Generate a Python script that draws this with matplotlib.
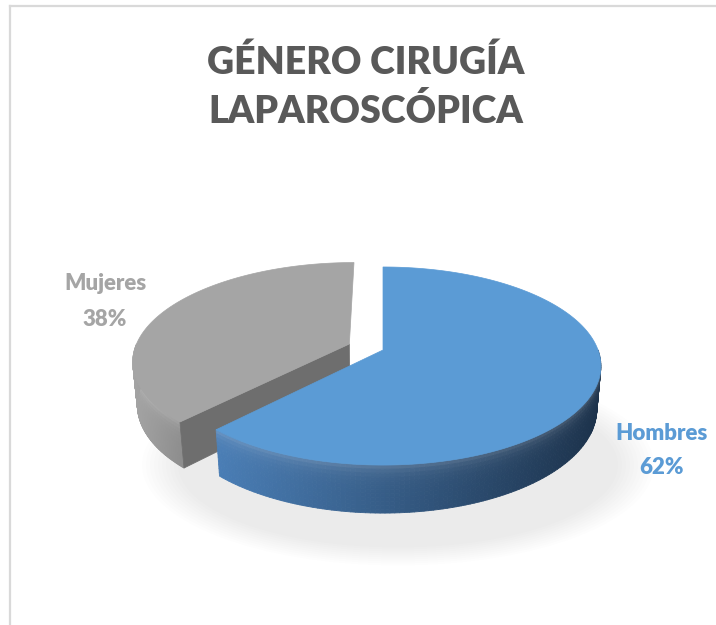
import numpy as np
import matplotlib.pyplot as plt
from matplotlib.patches import Polygon, Ellipse
from matplotlib.collections import PolyCollection

# datos
labels = ['Hombres', 'Mujeres']
values = [62, 38]
pct_labels = ['62%', '38%']
top_colors = ['#5B9BD5', '#A5A5A5']
explode = [0.0, 0.17]
title = 'GÉNERO CIRUGÍA\nLAPAROSCÓPICA'

plt.rcParams['font.family'] = ['Lato', 'DejaVu Sans']

fig = plt.figure(figsize=(7.16, 6.25), dpi=100)
ax = fig.add_axes([0, 0, 1, 1])
ax.set_xlim(0, 716)
ax.set_ylim(625, 0)
ax.axis('off')

# proyeccion en perspectiva del pastel 3D
elev = np.radians(26.65)
D = 5.525
f = 1188.0
cx0, cy0 = 383.0, 350.0
h = 0.225


def proj(X, Y, Z):
    X = np.asarray(X, float); Y = np.asarray(Y, float); Z = np.asarray(Z, float)
    v = Y * np.sin(elev) + Z * np.cos(elev)
    d = Y * np.cos(elev) - Z * np.sin(elev)
    s = f / (D + d)
    return cx0 + X * s, cy0 - v * s


def mix(c1, c2, a):
    c1 = np.array(plt.matplotlib.colors.to_rgb(c1))
    c2 = np.array(plt.matplotlib.colors.to_rgb(c2))
    return tuple(np.clip(c1 * (1 - a) + c2 * a, 0, 1))


# sombra suave
for k in range(10):
    w = 440 + k * 8
    hh = 165 + k * 4
    ax.add_patch(Ellipse((398, 465), w, hh, color='black', alpha=0.006, lw=0, zorder=0))

# borde del grafico
ax.plot([9.5, 716], [6, 6], color='#D9D9D9', lw=1.6, zorder=1)
ax.plot([9.5, 9.5], [6, 625], color='#D9D9D9', lw=1.6, zorder=1)

fracs = np.array(values) / np.sum(values)
bounds = np.concatenate([[0], np.cumsum(fracs) * 360])

side_cols = {0: ('#4A7EB6', '#1C324B'), 1: ('#A6A6A6', '#8E8E8E')}
x_range = {0: (215, 598), 1: (130, 180)}

# dibujar primero la porcion de atras (Mujeres), luego Hombres
for i in [1, 0]:
    t0, t1 = bounds[i], bounds[i + 1]
    tm = np.radians((t0 + t1) / 2)
    ox, oy = explode[i] * np.sin(tm), explode[i] * np.cos(tm)
    z0 = 2 + (1 - i) * 5

    # lado exterior visible (mitad frontal)
    a0, a1 = max(t0, 90), min(t1, 270)
    if a1 > a0:
        ts = np.radians(np.linspace(a0, a1, 120))
        nrow = 12
        polys, cols = [], []
        for j in range(len(ts) - 1):
            for r in range(nrow):
                za, zb = -h * r / nrow, -h * (r + 1) / nrow
                xs, ys = proj([np.sin(ts[j]) + ox, np.sin(ts[j + 1]) + ox,
                               np.sin(ts[j + 1]) + ox, np.sin(ts[j]) + ox],
                              [np.cos(ts[j]) + oy, np.cos(ts[j + 1]) + oy,
                               np.cos(ts[j + 1]) + oy, np.cos(ts[j]) + oy],
                              [za, za, zb, zb])
                polys.append(np.column_stack([xs, ys]))
                lo, hi = x_range[i]
                a = np.clip((xs.mean() - lo) / (hi - lo), 0, 1)
                c = mix(side_cols[i][0], side_cols[i][1], a)
                # bisel suave en la parte alta del lado
                c = mix(c, '#FFFFFF', 0.15 * np.exp(-r / 2.0))
                cols.append(c)
        ax.add_collection(PolyCollection(polys, facecolors=cols, edgecolors=cols,
                                         linewidths=0.6, zorder=z0))

    # cara de corte visible (Mujeres, en el borde inicial)
    if i == 1:
        tt = np.radians(t0)
        xs, ys = proj([ox, np.sin(tt) + ox, np.sin(tt) + ox, ox],
                      [oy, np.cos(tt) + oy, np.cos(tt) + oy, oy],
                      [0, 0, -h, -h])
        ax.add_patch(Polygon(np.column_stack([xs, ys]), closed=True,
                             facecolor='#6E6E6E', edgecolor='#6E6E6E', lw=0.5, zorder=z0))

    # cara superior
    ts = np.radians(np.linspace(t0, t1, 200))
    X = np.concatenate([[ox], np.sin(ts) + ox])
    Y = np.concatenate([[oy], np.cos(ts) + oy])
    xs, ys = proj(X, Y, np.zeros_like(X))
    ax.add_patch(Polygon(np.column_stack([xs, ys]), closed=True,
                         facecolor=top_colors[i], edgecolor=top_colors[i], lw=0.5, zorder=z0 + 1))

# titulo
ax.text(366, 62, 'GÉNERO CIRUGÍA', ha='center', va='center', fontsize=27,
        fontweight='heavy', color='#595959', zorder=10)
ax.text(366, 111, 'LAPAROSCÓPICA', ha='center', va='center', fontsize=27,
        fontweight='heavy', color='#595959', zorder=10)

# etiquetas
ax.text(105, 284, labels[1], ha='center', va='center', fontsize=16,
        fontweight='heavy', color='#A5A5A5', zorder=10)
ax.text(105, 320, pct_labels[1], ha='center', va='center', fontsize=16,
        fontweight='heavy', color='#A5A5A5', zorder=10)
ax.text(662, 434, labels[0], ha='center', va='center', fontsize=16,
        fontweight='heavy', color='#5B9BD5', zorder=10)
ax.text(662, 467, pct_labels[0], ha='center', va='center', fontsize=16,
        fontweight='heavy', color='#5B9BD5', zorder=10)

fig.savefig('out.png', dpi=100)
